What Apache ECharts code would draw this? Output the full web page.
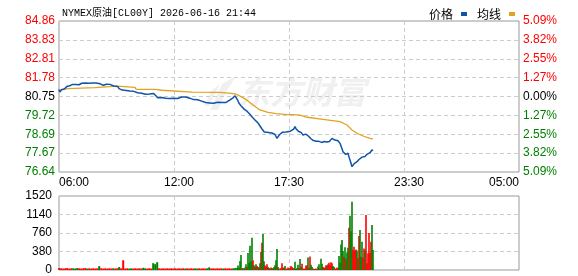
<!DOCTYPE html>
<html><head><meta charset="utf-8">
<script src="https://cdn.jsdelivr.net/npm/echarts@6/dist/echarts.min.js"></script>
<style>html,body{margin:0;padding:0;background:#fff}#c{width:578px;height:276px}</style>
</head><body><div id="c"></div>
<script>
const titleText = 'NYMEX原油[CL00Y] 2026-06-16 21:44';
const legendNames = ['价格', '均线'];
const timeLabels = ['06:00', '12:00', '17:30', '23:30', '05:00'];
const timeLabelMinutes = [0, 360, 690, 1050, 1380];
const priceLabels = ['76.64', '77.67', '78.69', '79.72', '80.75', '81.78', '82.81', '83.83', '84.86'];
const pctLabels = ['5.09%', '3.82%', '2.55%', '1.27%', '0.00%', '1.27%', '2.55%', '3.82%', '5.09%'];
const volLabels = ['0', '380', '760', '1140', '1520'];
const priceMin = 76.64, priceMax = 84.86;
const volMax = 1520;
const sessionMinutes = 1380;

// [minute since 06:00, price]
const price = [[0,81.14],[2,81.00],[4,81.05],[8,81.12],[12,81.10],[16,81.16],[20,81.14],[24,81.30],[28,81.36],[32,81.33],[36,81.38],[40,81.41],[45,81.43],[50,81.40],[55,81.42],[60,81.39],[64,81.44],[68,81.47],[72,81.45],[78,81.48],[84,81.46],[90,81.47],[96,81.50],[100,81.48],[106,81.51],[112,81.49],[118,81.50],[123,81.45],[127,81.38],[132,81.36],[138,81.40],[143,81.42],[148,81.39],[153,81.41],[158,81.35],[164,81.32],[170,81.34],[176,81.30],[180,81.18],[185,81.14],[190,81.10],[196,81.12],[202,81.08],[207,81.03],[212,81.05],[218,81.01],[224,81.03],[230,80.97],[236,80.95],[242,80.98],[248,80.93],[254,80.89],[260,80.87],[266,80.90],[272,80.88],[278,80.93],[284,80.91],[290,80.80],[296,80.68],[302,80.66],[308,80.70],[314,80.63],[320,80.65],[326,80.62],[332,80.64],[338,80.63],[344,80.66],[350,80.62],[356,80.64],[362,80.70],[368,80.72],[374,80.69],[380,80.72],[386,80.70],[392,80.66],[398,80.60],[404,80.58],[410,80.55],[416,80.57],[422,80.52],[428,80.50],[434,80.46],[440,80.42],[446,80.44],[452,80.40],[458,80.43],[464,80.38],[470,80.41],[476,80.44],[482,80.40],[488,80.43],[494,80.45],[500,80.42],[506,80.47],[512,80.55],[518,80.60],[522,80.68],[526,80.75],[528,80.79],[532,80.70],[536,80.55],[540,80.38],[543,80.29],[548,80.20],[552,80.15],[556,80.05],[560,80.00],[564,79.95],[567,79.92],[572,79.80],[576,79.70],[580,79.62],[584,79.55],[588,79.47],[592,79.40],[597,79.31],[601,79.20],[605,79.10],[609,78.98],[612,78.90],[616,78.82],[620,78.78],[624,78.80],[628,78.74],[632,78.78],[636,78.72],[640,78.76],[644,78.70],[648,78.68],[651,78.58],[654,78.47],[658,78.55],[662,78.68],[666,78.75],[670,78.80],[676,78.78],[682,78.82],[688,78.79],[694,78.86],[699,78.85],[704,78.98],[708,79.11],[711,79.00],[714,78.93],[718,78.86],[723,78.83],[727,78.78],[732,78.65],[736,78.72],[740,78.70],[744,78.75],[748,78.60],[752,78.50],[756,78.45],[759,78.42],[763,78.35],[768,78.29],[772,78.32],[776,78.28],[780,78.31],[783,78.29],[788,78.25],[792,78.26],[796,78.30],[800,78.24],[804,78.27],[807,78.23],[811,78.30],[815,78.36],[819,78.47],[823,78.40],[828,78.38],[832,78.36],[837,78.34],[841,78.25],[843,78.20],[846,78.05],[849,77.90],[852,77.74],[856,77.66],[860,77.60],[864,77.57],[867,77.66],[870,77.45],[873,77.29],[876,77.12],[879,76.93],[882,77.02],[885,77.08],[888,77.05],[891,77.15],[894,77.20],[897,77.25],[900,77.32],[903,77.39],[906,77.36],[909,77.45],[912,77.47],[915,77.50],[918,77.48],[921,77.56],[924,77.60],[927,77.58],[930,77.66],[933,77.69],[936,77.67],[939,77.84],[942,77.80]];

// [minute since 06:00, average price]
const avgLine = [[0,81.05],[4,81.10],[9,81.14],[27,81.18],[33,81.23],[108,81.23],[111,81.31],[174,81.31],[177,81.25],[228,81.25],[231,81.14],[288,81.14],[291,81.09],[309,81.09],[312,81.01],[400,80.99],[480,80.97],[510,80.93],[528,80.89],[537,80.83],[550,80.70],[564,80.55],[582,80.29],[603,80.02],[627,79.89],[651,79.82],[678,79.78],[700,79.76],[723,79.74],[744,79.62],[792,79.51],[843,79.38],[864,79.20],[879,78.93],[894,78.75],[912,78.60],[933,78.47],[942,78.44]];

// [minute, volume, up(1)/down(0)] quiet session
const volQuiet = [[0,40,1],[6,35,1],[12,30,1],[18,35,1],[24,40,1],[30,30,1],[36,35,1],[42,35,0],[48,30,0],[54,40,0],[60,35,1],[66,30,1],[72,35,1],[78,40,1],[84,30,0],[90,35,1],[96,30,1],[102,35,1],[108,30,1],[114,35,1],[120,80,0],[126,35,1],[132,30,1],[138,35,1],[144,30,1],[150,35,1],[156,30,1],[162,35,0],[168,30,1],[174,35,1],[180,60,0],[186,35,1],[192,200,1],[198,30,1],[204,35,1],[210,30,0],[216,35,0],[222,30,1],[228,35,1],[234,30,1],[240,35,1],[246,30,1],[252,45,0],[258,35,0],[264,30,1],[270,35,1],[276,30,1],[282,140,0],[288,120,0],[294,160,0],[300,35,1],[306,30,1],[312,35,1],[318,30,1],[324,35,1],[330,30,1],[336,35,1],[342,30,1],[348,35,1],[354,30,1],[360,35,1],[366,30,1],[372,35,1],[378,30,0],[384,35,1],[390,30,1],[396,35,1],[402,30,1],[408,35,0],[414,30,0],[420,35,1],[426,30,1],[432,35,1],[438,30,1],[444,35,0],[450,55,0],[456,30,1],[462,35,1],[468,30,1],[474,35,1],[480,30,1],[486,35,1],[492,30,0],[498,35,1],[504,30,1],[510,35,1],[516,30,1],[522,35,0],[528,40,0],[534,45,0]];

// [minute, volume, up(1)/down(0)] active session
const volActive = [[537,90,0],[540,40,0],[543,185,0],[546,310,0],[549,30,1],[552,40,0],[555,20,1],[558,50,0],[561,120,0],[564,60,1],[567,350,0],[570,150,0],[573,500,0],[576,180,0],[579,665,0],[582,200,1],[585,100,0],[588,60,1],[591,120,0],[594,80,1],[597,60,0],[600,50,1],[603,140,0],[606,375,0],[609,560,1],[612,740,0],[615,180,0],[618,90,1],[621,70,1],[624,120,1],[627,60,0],[630,40,1],[633,30,0],[636,50,1],[639,40,0],[642,30,1],[645,60,0],[648,100,0],[651,200,0],[654,430,0],[657,60,1],[660,30,0],[663,20,0],[666,40,1],[669,140,1],[672,50,1],[675,40,0],[678,80,0],[681,30,1],[684,20,1],[687,50,1],[690,30,0],[693,40,1],[696,80,1],[699,60,1],[702,40,0],[705,30,1],[708,170,0],[711,20,1],[714,40,0],[717,110,0],[720,40,1],[723,225,0],[726,60,0],[729,130,1],[732,30,1],[735,20,0],[738,30,1],[741,90,1],[744,90,1],[747,255,0],[750,40,0],[753,275,1],[756,110,0],[759,60,0],[762,30,1],[765,20,0],[768,20,1],[771,30,1],[774,20,0],[777,70,0],[780,120,0],[783,30,1],[786,230,0],[789,130,0],[792,60,1],[795,40,0],[798,50,1],[801,100,1],[804,90,0],[807,120,1],[810,150,1],[813,100,1],[816,160,1],[819,140,1],[822,80,0],[825,60,0],[828,30,1],[831,20,1],[834,50,1],[837,40,1],[840,290,0],[843,150,0],[846,525,0],[849,615,0],[852,390,0],[855,270,1],[858,465,0],[861,230,1],[864,360,0],[867,455,0],[870,870,1],[873,1115,0],[876,790,0],[879,1400,0],[882,410,1],[885,480,1],[888,400,1],[891,420,1],[894,400,0],[897,240,1],[900,700,1],[903,820,0],[906,270,0],[909,580,0],[912,250,1],[915,440,1],[918,400,0],[921,1130,1],[924,140,1],[927,345,1],[930,760,1],[933,350,1],[936,580,1],[939,925,0],[942,410,0]];

const RED = '#ff0000', GREEN = '#008000';
const BLUE = '#0f54a6', GOLD = '#e0a420';
const FONT = '"Liberation Sans", Arial, sans-serif';
const CJK = '"Noto Sans CJK SC", sans-serif';
const dashed = { show: true, lineStyle: { color: '#cccccc', type: [4, 3], width: 1 } };

function colorKey(i) { return i > 4 ? 'r' : (i < 4 ? 'g' : 'n'); }
const richLab = {
  r: { color: RED, fontSize: 12, fontFamily: FONT },
  g: { color: GREEN, fontSize: 12, fontFamily: FONT },
  n: { color: '#000', fontSize: 12, fontFamily: FONT }
};
const volItems = arr => arr.map(d => ({ value: [d[0], d[1]], itemStyle: { color: d[2] ? RED : GREEN } }));

const chart = echarts.init(document.getElementById('c'), null, { renderer: 'canvas' });
chart.setOption({
  animation: false,
  backgroundColor: '#fff',
  title: { text: titleText, left: 57, top: 3, textStyle: { fontSize: 10, fontWeight: 'normal', color: '#000', fontFamily: '"Liberation Mono", "Noto Sans CJK SC", monospace' } },
  legend: {
    data: legendNames, right: 58, top: 3, align: 'right', icon: 'rect', itemWidth: 6, itemHeight: 4, itemGap: 10,
    textStyle: { fontSize: 12, color: '#000', fontFamily: CJK, padding: [0, 3, 0, 0] }
  },
  graphic: [
    { type: 'polygon', silent: true, z: 0, shape: { points: [[210,110],[222,84],[236,76],[226,92],[218,110]] }, style: { fill: '#f0f0f0' } },
    { type: 'polygon', silent: true, z: 0, shape: { points: [[204,106],[212,90],[220,84],[214,96],[209,106]] }, style: { fill: '#f0f0f0' } },
    { type: 'text', silent: true, z: 0, left: 238, top: 76, style: { text: '东方财富', font: 'italic bold 32px "Noto Sans CJK SC"', fill: '#f0f0f0' } }
  ],
  grid: [
    { left: 59, right: 59, top: 21, height: 151, show: true, borderColor: '#999', borderWidth: 1, backgroundColor: 'transparent' },
    { left: 59, right: 59, top: 196, height: 74, show: true, borderColor: '#999', borderWidth: 1, backgroundColor: 'transparent' }
  ],
  xAxis: [
    { type: 'value', gridIndex: 0, position: 'top', min: 0, max: sessionMinutes, interval: 345, splitLine: dashed, axisLine: { show: false }, axisTick: { show: false }, axisLabel: { show: false } },
    { type: 'value', gridIndex: 0, position: 'bottom', min: 0, max: sessionMinutes, interval: 30, splitLine: { show: false }, axisLine: { show: false }, axisTick: { show: false },
      axisLabel: { show: true, margin: 5, color: '#000', fontSize: 12, fontFamily: FONT, alignMinLabel: 'left', alignMaxLabel: 'right',
        formatter: v => { const i = timeLabelMinutes.indexOf(Math.round(v)); return i >= 0 ? timeLabels[i] : ''; } } },
    { type: 'value', gridIndex: 1, min: 0, max: sessionMinutes, interval: 345, splitLine: dashed, axisLine: { show: false }, axisTick: { show: false }, axisLabel: { show: false } }
  ],
  yAxis: [
    { type: 'value', gridIndex: 0, min: priceMin, max: priceMax, scale: true, splitLine: { show: false }, axisLine: { show: false }, axisTick: { show: false }, axisLabel: { show: false } },
    { type: 'value', gridIndex: 0, min: -4, max: 4, interval: 1, position: 'left', splitLine: dashed, axisLine: { show: false }, axisTick: { show: false },
      axisLabel: { margin: 4, formatter: v => { const i = Math.round(v) + 4; return '{' + colorKey(i) + '|' + priceLabels[i] + '}'; }, rich: richLab } },
    { type: 'value', gridIndex: 0, min: -4, max: 4, interval: 1, position: 'right', splitLine: { show: false }, axisLine: { show: false }, axisTick: { show: false },
      axisLabel: { margin: 4, formatter: v => { const i = Math.round(v) + 4; return '{' + colorKey(i) + '|' + pctLabels[i] + '}'; }, rich: richLab } },
    { type: 'value', gridIndex: 1, min: 0, max: volMax, interval: 380, splitLine: dashed, axisLine: { show: false }, axisTick: { show: false },
      axisLabel: { margin: 7, color: '#000', fontSize: 12, fontFamily: FONT, formatter: v => volLabels[Math.round(v / 380)] } }
  ],
  series: [
    { name: legendNames[0], type: 'line', xAxisIndex: 0, yAxisIndex: 0, data: price, showSymbol: false, symbol: 'none', lineStyle: { color: BLUE, width: 1.5 }, itemStyle: { color: BLUE }, z: 4 },
    { name: legendNames[1], type: 'line', xAxisIndex: 0, yAxisIndex: 0, data: avgLine, showSymbol: false, symbol: 'none', lineStyle: { color: GOLD, width: 1.3 }, itemStyle: { color: GOLD }, z: 3 },
    { type: 'bar', xAxisIndex: 2, yAxisIndex: 3, data: volItems(volQuiet), barWidth: 2, barGap: '-100%' },
    { type: 'bar', xAxisIndex: 2, yAxisIndex: 3, data: volItems(volActive), barWidth: 1.6, barGap: '-100%' }
  ]
});
</script>
</body></html>
